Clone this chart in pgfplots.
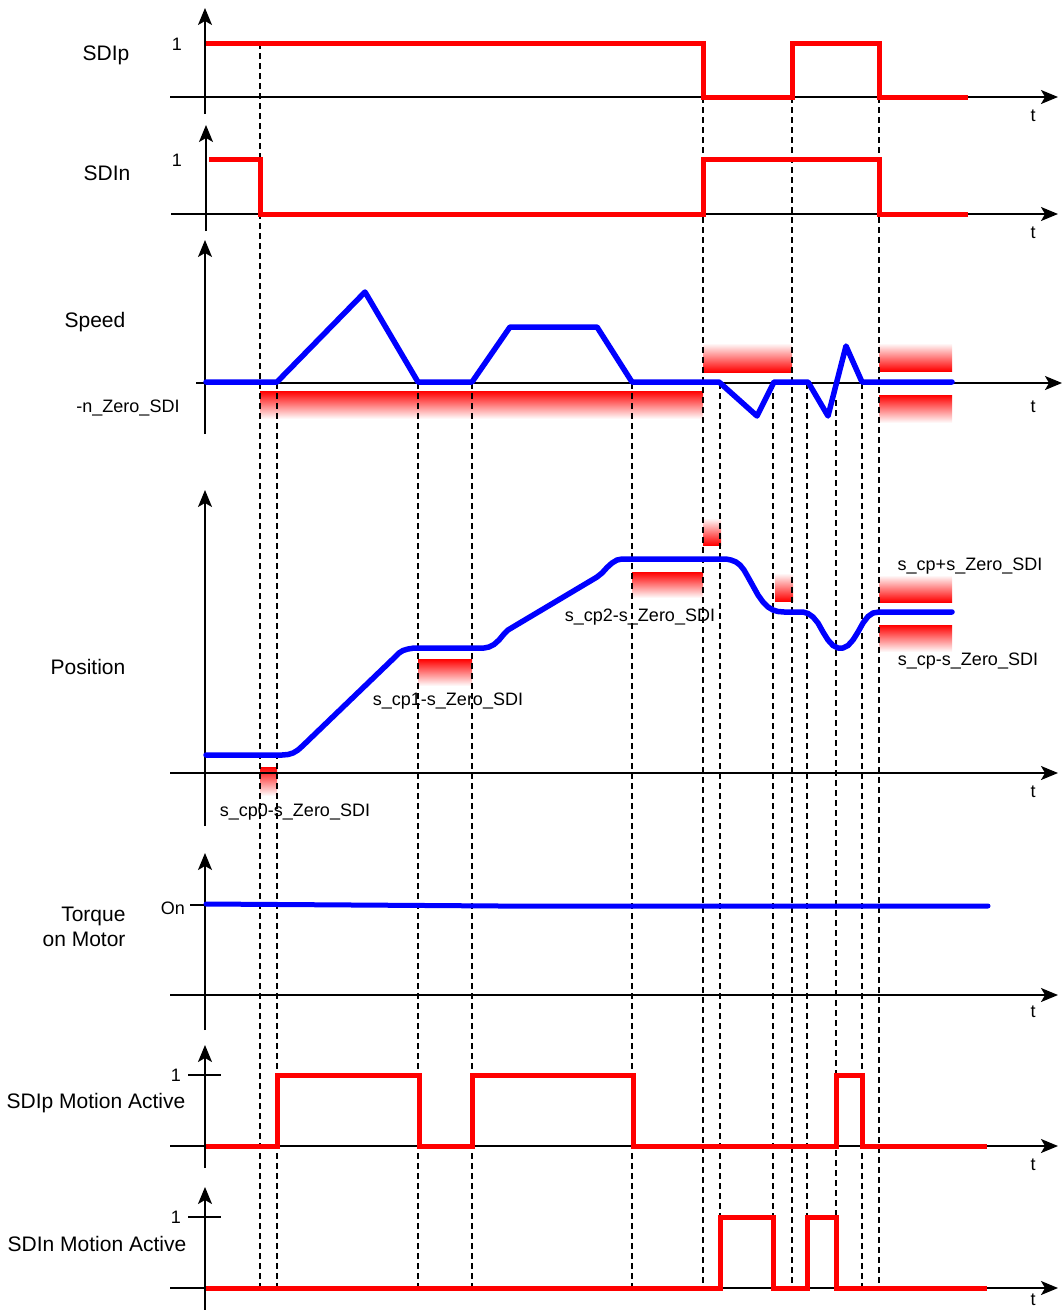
\documentclass[border=0pt]{standalone}
\usepackage{pgfplots}
\pgfplotsset{compat=1.18}
\usepackage{fontspec}
\setmainfont{Liberation Sans}
\usetikzlibrary{arrows.meta}
\pgfplotsset{
  ax/.style={black, line width=1.6pt, -{Stealth[length=17pt,width=14pt,inset=4pt]}},
  tk/.style={black, line width=1.6pt},
  sig/.style={red, line width=5pt, line join=miter},
  bl/.style={blue, line width=5.5pt, line join=round, line cap=round},
  dsh/.style={black, line width=1.4pt, dash pattern=on 6pt off 4pt},
  fd/.style={draw=none, top color=red, middle color=red!65!white, bottom color=white},
  fu/.style={draw=none, top color=white, middle color=red!65!white, bottom color=red},
}
\begin{document}
\begin{tikzpicture}
\begin{axis}[x=1pt, y=1pt, xmin=0, xmax=1063, ymin=0, ymax=1310, y dir=reverse,
  enlargelimits=false, hide axis, clip=false]
% ---------- gradient bands ----------
% speed
\addplot[fd] coordinates {(260,391)(703,391)(703,419)(260,419)} -- cycle;
\addplot[fu] coordinates {(703,343)(792,343)(792,372)(703,372)} -- cycle;
\addplot[fu] coordinates {(879,343)(952,343)(952,371)(879,371)} -- cycle;
\addplot[fd] coordinates {(879,395)(952,395)(952,423)(879,423)} -- cycle;
% position
\addplot[fd] coordinates {(260,767)(277,767)(277,796)(260,796)} -- cycle;
\addplot[fd] coordinates {(418,659)(472,659)(472,686)(418,686)} -- cycle;
\addplot[fd] coordinates {(632,572)(703,572)(703,598)(632,598)} -- cycle;
\addplot[fu] coordinates {(703,518)(721,518)(721,545)(703,545)} -- cycle;
\addplot[fu] coordinates {(775,573)(793,573)(793,601)(775,601)} -- cycle;
\addplot[fu] coordinates {(879,575)(952,575)(952,602)(879,602)} -- cycle;
\addplot[fd] coordinates {(879,625)(952,625)(952,652)(879,652)} -- cycle;
% ---------- dashed time markers ----------
\addplot[dsh] coordinates {(260,43)(260,1288)};
\addplot[dsh] coordinates {(703,97)(703,1288)};
\addplot[dsh] coordinates {(792,97)(792,1288)};
\addplot[dsh] coordinates {(879,97)(879,1288)};
\addplot[dsh] coordinates {(277,383)(277,1288)};
\addplot[dsh] coordinates {(418,383)(418,1288)};
\addplot[dsh] coordinates {(472,383)(472,1288)};
\addplot[dsh] coordinates {(632,383)(632,1288)};
\addplot[dsh] coordinates {(720,383)(720,1288)};
\addplot[dsh] coordinates {(773,383)(773,1288)};
\addplot[dsh] coordinates {(807,383)(807,1288)};
\addplot[dsh] coordinates {(836,400)(836,1288)};
\addplot[dsh] coordinates {(862,383)(862,1288)};
% ---------- axes ----------
\addplot[ax] coordinates {(205,114)(205,8)};
\addplot[ax] coordinates {(170,97)(1058,97)};
\addplot[ax] coordinates {(206,231)(206,125)};
\addplot[ax] coordinates {(171,214)(1058,214)};
\addplot[ax] coordinates {(205,434)(205,240)};
\addplot[ax] coordinates {(196,383)(1062,383)};
\addplot[ax] coordinates {(205,826)(205,490)};
\addplot[ax] coordinates {(170,773)(1058,773)};
\addplot[ax] coordinates {(205,1030)(205,853)};
\addplot[ax] coordinates {(170,995)(1058,995)};
\addplot[tk] coordinates {(190,905)(222,905)};
\addplot[ax] coordinates {(205,1168)(205,1045)};
\addplot[ax] coordinates {(170,1146)(1058,1146)};
\addplot[tk] coordinates {(188,1075)(221,1075)};
\addplot[ax] coordinates {(205,1310)(205,1187)};
\addplot[ax] coordinates {(170,1288)(1058,1288)};
\addplot[tk] coordinates {(188,1217)(221,1217)};
% ---------- signals ----------
% SDIp
\addplot[sig] coordinates {(206,43)(703,43)(703,97)(792,97)(792,43)(879,43)(879,97)(968,97)};
% SDIn
\addplot[sig] coordinates {(209,159)(260,159)(260,214)(703,214)(703,159)(879,159)(879,214)(968,214)};
% Speed
\addplot[bl] coordinates {(206,382)(277,382)(365,292)(418,382)(472,382)(510,327)(597,327)(632,382)(719,382)(757,416)(774,382)(808,382)(828,416)(846,346)(862,382)(952,382)};
% Position
\addplot[bl] coordinates {(206,755)(282,755)(288,754.5)(293,753)(298,750)(303,745.5)(395,657)(399,653)(403,650.5)(408,649)(414,648)(484,648)(489,647)(494,644.5)(499,640)(504,634)(508,630)(513,627)(592,580)(597,577)(602,573)(607,567.5)(612,563)(617,560)(622,559)(726,559)(731,560)(736,562)(740,565)(744,570)(748,577)(753,586)(758,595)(763,602)(768,607)(773,610)(778,611.5)(784,612)(803,612)(808,613.5)(813,617)(818,623)(823,632)(828,640)(833,645.5)(838,648)(843,648)(848,645.5)(853,640)(858,632)(863,623)(868,616.5)(873,613)(879,612)(952,612)};
% Torque
\addplot[bl, line width=5pt] coordinates {(206,904)(500,906)(988,906)};
% SDIp Motion Active
\addplot[sig] coordinates {(206,1146)(277,1146)(277,1075)(419,1075)(419,1146)(472,1146)(472,1075)(633,1075)(633,1146)(836,1146)(836,1075)(862,1075)(862,1146)(987,1146)};
% SDIn Motion Active
\addplot[sig] coordinates {(206,1288)(720,1288)(720,1217)(773,1217)(773,1288)(807,1288)(807,1217)(836,1217)(836,1288)(987,1288)};
% ---------- text ----------
\begin{scope}[every node/.style={font=\fontsize{21}{25}\selectfont}]
\node at (106,55) {SDIp};
\node at (107,173) {SDIn};
\node at (95,322) {Speed};
\node at (88,667) {Position};
\node[align=right, anchor=east] at (129,927) {Torque\\on Motor};
\node at (96,1103) {SDIp Motion Active};
\node at (97,1244) {SDIn Motion Active};
\end{scope}
\begin{scope}[every node/.style={font=\fontsize{18}{21}\selectfont}]
\node at (177,44) {1};
\node at (177,160) {1};
\node at (176,1075) {1};
\node at (176,1217) {1};
\node at (173,908) {On};
\node at (128,408) {-n\_Zero\_SDI};
\node at (295,812) {s\_cp0-s\_Zero\_SDI};
\node at (448,701) {s\_cp1-s\_Zero\_SDI};
\node at (640,617) {s\_cp2-s\_Zero\_SDI};
\node at (970,566) {s\_cp+s\_Zero\_SDI};
\node at (968,661) {s\_cp-s\_Zero\_SDI};
\node at (1033,116) {t};
\node at (1033,233) {t};
\node at (1033,407) {t};
\node at (1033,792) {t};
\node at (1033,1012) {t};
\node at (1033,1165) {t};
\node at (1033,1300) {t};
\end{scope}
\end{axis}
\pgfresetboundingbox
\useasboundingbox (current axis.south west) rectangle (current axis.north east);
\end{tikzpicture}
\end{document}
